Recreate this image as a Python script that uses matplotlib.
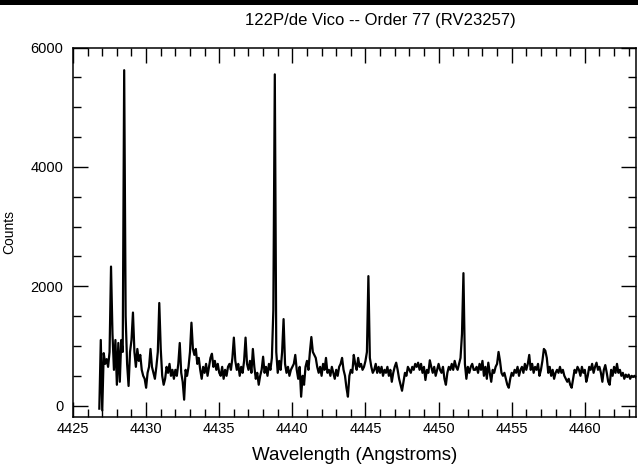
import matplotlib as mpl
import matplotlib.pyplot as plt
from matplotlib.patches import Rectangle
import numpy as np

mpl.rcParams['font.family'] = ['Liberation Sans', 'DejaVu Sans']

# spectrum, 0.1 A sampling starting at 4426.8 A
wl_start = 4426.8
wl_step = 0.1
counts = [
    -50, 1100,
    -80, 880, 700, 780, 650, 900, 2330, 1200, 600, 1100,     # 4427
    350, 1050, 400, 1100, 900, 5620, 1500, 700, 330, 900,    # 4428
    1100, 1560, 900, 650, 950, 750, 850, 600, 500, 450,      # 4429
    300, 550, 650, 950, 650, 550, 450, 650, 900, 1720,       # 4430
    950, 500, 350, 450, 650, 550, 700, 500, 600, 450,        # 4431
    600, 500, 700, 1050, 550, 400, 100, 600, 500, 650,       # 4432
    900, 1390, 950, 850, 950, 700, 800, 600, 450, 650,       # 4433
    550, 700, 500, 650, 800, 870, 650, 750, 600, 700,        # 4434
    550, 500, 650, 450, 600, 500, 650, 700, 600, 800,        # 4435
    1140, 750, 600, 700, 500, 650, 550, 750, 1140, 700,      # 4436
    600, 750, 550, 950, 650, 450, 550, 350, 500, 600,        # 4437
    820, 550, 650, 500, 700, 600, 800, 1600, 5550, 900,      # 4438
    550, 750, 600, 900, 1450, 700, 550, 650, 500, 600,       # 4439
    650, 700, 850, 600, 450, 650, 150, 500, 350, 650,        # 4440
    750, 600, 900, 1150, 900, 850, 800, 650, 550, 650,       # 4441
    500, 700, 600, 800, 550, 600, 500, 650, 550, 450,        # 4442
    600, 500, 650, 700, 800, 600, 500, 300, 150, 500,        # 4443
    600, 550, 850, 700, 600, 800, 650, 700, 600, 650,        # 4444
    750, 900, 2170, 800, 650, 550, 600, 700, 550, 650,       # 4445
    550, 650, 500, 600, 550, 650, 500, 600, 400, 550,        # 4446
    650, 720, 600, 450, 350, 250, 400, 550, 500, 650,        # 4447
    600, 550, 650, 600, 700, 650, 720, 600, 700, 550,        # 4448
    650, 430, 600, 550, 760, 650, 550, 650, 500, 600,        # 4449
    700, 600, 550, 650, 450, 350, 550, 650, 600, 700,        # 4450
    600, 750, 650, 600, 700, 800, 1200, 2220, 700, 450,      # 4451
    650, 550, 650, 700, 600, 600, 650, 550, 700, 600,        # 4452
    750, 500, 650, 450, 720, 550, 400, 600, 550, 650,        # 4453
    700, 900, 750, 550, 500, 550, 450, 350, 300, 450,        # 4454
    550, 500, 600, 550, 650, 500, 600, 650, 550, 700,        # 4455
    600, 700, 850, 600, 700, 550, 650, 600, 700, 500,        # 4456
    600, 750, 950, 920, 800, 550, 650, 500, 600, 450,        # 4457
    550, 600, 550, 650, 550, 600, 500, 450, 400, 450,        # 4458
    350, 300, 450, 600, 550, 650, 600, 500, 650, 550,        # 4459
    600, 400, 500, 650, 600, 700, 550, 650, 720, 600,        # 4460
    650, 550, 400, 600, 680, 550, 400, 350, 600, 500,        # 4461
    650, 550, 700, 550, 600, 500, 550, 450, 520, 480,        # 4462
    520, 450, 500, 480, 500, 470,                            # 4463
]
wavelength = wl_start + wl_step * np.arange(len(counts))

fig = plt.figure(figsize=(6.38, 4.74), dpi=100)
ax = fig.add_axes([73 / 638, 1 - 416.7 / 474, 563 / 638, (416.7 - 47.5) / 474])

ax.plot(wavelength, counts, color='black', lw=1.6)

ax.set_xlim(4425, 4463.5)
ax.set_ylim(-185, 6000)
ax.set_xticks(np.arange(4425, 4461, 5))
ax.set_xticks(np.arange(4425, 4464, 1), minor=True)
ax.set_yticks([0, 2000, 4000, 6000])
ax.set_yticks(np.arange(0, 6001, 500), minor=True)
ax.tick_params(which='both', direction='in', top=True, right=True, width=1.0)
ax.tick_params(which='major', length=11, labelsize=10.5)
ax.tick_params(which='minor', length=5.5)
ax.tick_params(axis='y', pad=7)
for s in ax.spines.values():
    s.set_linewidth(1.1)

ax.set_xlabel('Wavelength (Angstroms)', fontsize=13.5, labelpad=8)
ax.set_ylabel('Counts', fontsize=10, labelpad=10)
fig.text(380 / 638, 1 - 20 / 474, '122P/de Vico -- Order 77 (RV23257)',
         ha='center', va='center', fontsize=12)

fig.patches.append(Rectangle((0, 1 - 5 / 474), 1, 5 / 474, transform=fig.transFigure,
                             facecolor='black', edgecolor='none'))

fig.savefig('out.png', dpi=100)
